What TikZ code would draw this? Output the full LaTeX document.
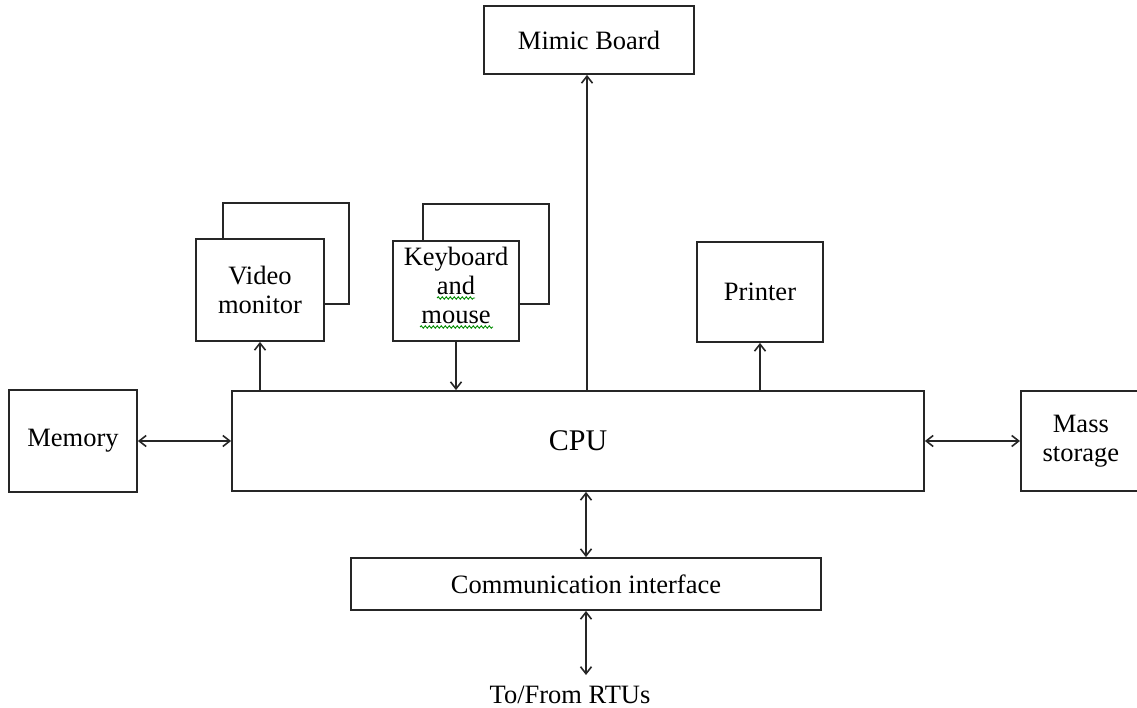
\documentclass[tikz,border=0pt]{standalone}
\usepackage{fontspec}
\setmainfont{Liberation Serif}
\usetikzlibrary{arrows.meta,decorations.pathmorphing}
\begin{document}
\begin{tikzpicture}[x=1pt,y=-1pt,
  font=\fontsize{26.5}{29}\selectfont,
  box/.style={draw=black!85, line width=1.8pt, fill=white, inner sep=0pt,
              align=center, rectangle},
  tip/.tip={Straight Barb[length=7pt,width=11pt,line width=1.6pt]},
  link/.style={draw=black!85, line width=1.8pt, arrows={-tip}},
  dlink/.style={link, arrows={tip-tip}},
  squig/.style={draw=green!55!black, line width=0.9pt,
              decorate, decoration={snake, segment length=4pt, amplitude=1.2pt}}]
\useasboundingbox (0,0) rectangle (1137,708);

% main processor and its direct neighbours
\node[box, minimum width=692, minimum height=100] (cpu) at (578,441)
  {\fontsize{30}{32}\selectfont CPU};
\node[box, minimum width=128, minimum height=102] (mem) at (73,441) {Memory};
\node[box, minimum width=120, minimum height=100, anchor=west] (mass) at (1020,441)
  {\raisebox{-6pt}{\begin{tabular}{@{}c@{}}Mass\\storage\end{tabular}}};
\node[box, minimum width=210, minimum height=68] (mim) at (589,40) {Mimic Board};
\node[box, minimum width=126, minimum height=100] (prn) at (760,292) {Printer};
\node[box, minimum width=470, minimum height=52] (comm) at (586,584)
  {Communication interface};

% stacked consoles: a shadow frame behind each front box
\draw[box] (223,203) rectangle (349,304);
\node[box, minimum width=128, minimum height=102] (vid) at (260,290)
  {Video\\monitor};
\draw[box] (423,204) rectangle (549,304);
\node[box, minimum width=126, minimum height=100] (kbd) at (456,291) {};
\node[align=center, inner sep=0pt] (kbdtext) at ([yshift=6pt]kbd.center)
  {Keyboard\\and\\mouse};

% spell-check underlines
\draw[squig] (437,298) -- (475,298);
\draw[squig] (420,327) -- (493,327);

% outside link
\node[inner sep=0pt, anchor=base] (rtu) at (570,703) {To/From RTUs};
\coordinate (rtuend) at (586,675);

% connectors
\draw[dlink] (mem.east) -- (mem.east -| cpu.west);
\draw[dlink] (mass.west -| cpu.east) -- (mass.west);
\draw[link] (cpu.north -| vid.south) -- (vid.south);
\draw[link] (kbd.south) -- (kbd.south |- cpu.north);
\draw[link] (cpu.north -| 587,0) -- (mim.south -| 587,0);
\draw[link] (cpu.north -| prn.south) -- (prn.south);
\draw[dlink] (cpu.south -| comm.north) -- (comm.north);
\draw[dlink] (comm.south) -- (rtuend);
\end{tikzpicture}
\end{document}
